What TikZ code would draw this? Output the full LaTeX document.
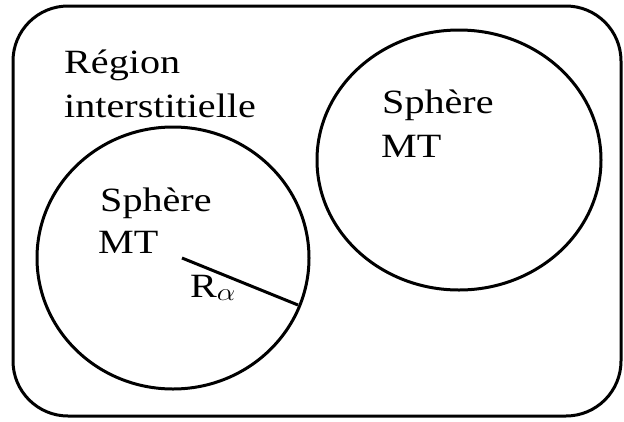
\documentclass[tikz,border=0pt]{standalone}
\usepackage{fontspec}
\setmainfont{Liberation Serif}
\begin{document}
\begin{tikzpicture}[x=1pt,y=-1pt,
  outline/.style={draw=black,line width=3pt},
  lbl/.style={font=\fontsize{34}{40}\selectfont,inner sep=0pt,anchor=base west,xscale=1.18,transform shape}]
\useasboundingbox (0,0) rectangle (624,421);
\draw[outline,rounded corners=55pt] (13,6) rectangle (621,416);
\coordinate (cl) at (173,258);
\coordinate (cr) at (459,160);
\draw[outline] (cl) ellipse [x radius=136, y radius=131];
\draw[outline] (cr) ellipse [x radius=142, y radius=130];
\node[lbl] (r1) at (64,73) {Région};
\node[lbl] (r2) at (64,117) {interstitielle};
\node[lbl] (s1) at (100,211) {Sphère};
\node[lbl] (s2) at (98,253) {MT};
\node[lbl] (t1) at (382,113) {Sphère};
\node[lbl] (t2) at (381,157) {MT};
\coordinate (ra) at (182,258);
\coordinate (rb) at (298,305);
\draw[line width=3pt] (ra) -- (rb);
\node[lbl] (rl) at (190,297) {R\textsubscript{$\alpha$}};
\end{tikzpicture}
\end{document}
